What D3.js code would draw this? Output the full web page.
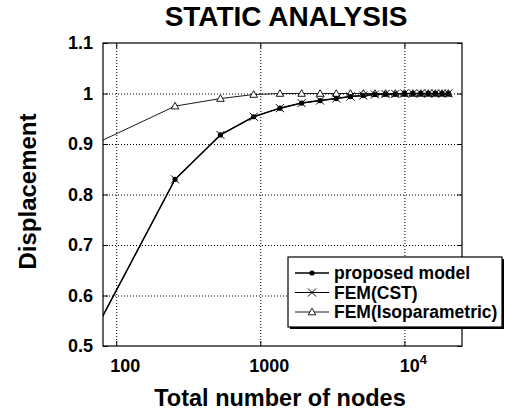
<!DOCTYPE html>
<html>
<head>
<meta charset="utf-8">
<script src="https://cdn.jsdelivr.net/npm/d3@7"></script>
<style>
body { margin: 0; background: #fff; }
text { font-family: Arial, "Liberation Sans", sans-serif; font-weight: bold; fill: #000; }
</style>
</head>
<body>
<div id="containerX"></div>
<script>
//data (first point sits just left of the axis, clipped)
var nodes = [64, 256, 529, 900, 1369, 1936, 2601, 3364, 4225, 5184, 6241, 7396, 8649, 10000, 11449, 12996, 14641, 16384, 18225, 20164];
var proposed = [0.505, 0.83, 0.918, 0.954, 0.971, 0.981, 0.986, 0.990, 0.994, 0.996, 0.998, 0.999, 0.999, 1.0, 1.0, 1.0, 1.0, 1.0, 1.0, 1.0];
var cst = [0.505, 0.83, 0.918, 0.954, 0.971, 0.981, 0.986, 0.990, 0.994, 0.996, 0.998, 0.999, 0.999, 1.0, 1.0, 1.0, 1.0, 1.0, 1.0, 1.0];
var iso = [0.894, 0.975, 0.990, 0.998, 1.0, 1.0, 1.0, 1.0, 1.0, 1.0, 1.0, 1.0, 1.0, 1.0, 1.0, 1.0, 1.0, 1.0, 1.0, 1.0];
var yTicks = [0.5, 0.6, 0.7, 0.8, 0.9, 1, 1.1];
var xTicks = [100, 1000, 10000];
var legendNames = ["proposed model", "FEM(CST)", "FEM(Isoparametric)"];

var W = 506, H = 412;
var pL = 103, pR = 462, pT = 43, pB = 346;

var svg = d3.select("#containerX").append("svg")
    .attr("width", W)
    .attr("height", H);

var x = d3.scaleLog().domain([81, 25100]).range([pL, pR]);
var y = d3.scaleLinear().domain([0.5, 1.1]).range([pB, pT]);

svg.append("clipPath").attr("id", "plotclip")
  .append("rect")
    .attr("x", pL).attr("y", pT)
    .attr("width", pR - pL).attr("height", pB - pT);

//grid
svg.append("g")
    .attr("transform", "translate(0," + pB + ")")
    .call(d3.axisBottom(x).tickValues(xTicks).tickSize(-(pB - pT)).tickFormat(""))
    .call(function(g) { g.select(".domain").remove(); })
    .selectAll("line")
    .attr("stroke", "#000")
    .attr("stroke-dasharray", "1,2");

svg.append("g")
    .attr("transform", "translate(" + pL + ",0)")
    .call(d3.axisLeft(y).tickValues(yTicks.slice(1, -1)).tickSize(-(pR - pL)).tickFormat(""))
    .call(function(g) { g.select(".domain").remove(); })
    .selectAll("line")
    .attr("stroke", "#000")
    .attr("stroke-dasharray", "1,2");

//box + inward ticks
svg.append("rect")
    .attr("x", pL).attr("y", pT)
    .attr("width", pR - pL).attr("height", pB - pT)
    .attr("fill", "none").attr("stroke", "#000").attr("stroke-width", 1.2);

svg.append("g").attr("transform", "translate(0," + pT + ")")
    .call(d3.axisBottom(x).tickValues(xTicks).tickSize(5).tickFormat(""))
    .call(function(g) { g.select(".domain").remove(); });
svg.append("g").attr("transform", "translate(0," + pB + ")")
    .call(d3.axisTop(x).tickValues(xTicks).tickSize(5).tickFormat(""))
    .call(function(g) { g.select(".domain").remove(); });
svg.append("g").attr("transform", "translate(" + pR + ",0)")
    .call(d3.axisLeft(y).tickValues(yTicks).tickSize(5).tickFormat(""))
    .call(function(g) { g.select(".domain").remove(); });
svg.append("g").attr("transform", "translate(" + pL + ",0)")
    .call(d3.axisRight(y).tickValues(yTicks).tickSize(5).tickFormat(""))
    .call(function(g) { g.select(".domain").remove(); });

//tick labels
svg.selectAll(".ylab").data(yTicks).enter().append("text")
    .attr("x", pL - 10)
    .attr("y", function(d) { return y(d); })
    .attr("dy", "0.36em")
    .attr("text-anchor", "end")
    .style("font-size", "18px")
    .text(function(d) { return d3.format("")(d); });

var xl = svg.selectAll(".xlab").data(xTicks).enter().append("text")
    .attr("x", function(d) { return x(d) + 9; })
    .attr("y", 372)
    .attr("text-anchor", "middle")
    .style("font-size", "18px");
xl.each(function(d) {
    var t = d3.select(this);
    if (d == 10000) {
        t.text("10");
        t.append("tspan").attr("dy", "-8").style("font-size", "13px").text("4");
    } else {
        t.text(d);
    }
});

//titles
svg.append("text")
    .attr("x", 286).attr("y", 26)
    .attr("text-anchor", "middle")
    .style("font-size", "28px")
    .text("STATIC ANALYSIS");

svg.append("text")
    .attr("x", 280).attr("y", 406)
    .attr("text-anchor", "middle")
    .style("font-size", "23.5px")
    .text("Total number of nodes");

svg.append("text")
    .attr("transform", "translate(36," + ((pT + pB) / 2 - 3) + ") rotate(-90)")
    .attr("text-anchor", "middle")
    .style("font-size", "24px")
    .text("Displacement");

//lines
var line = d3.line()
    .x(function(d) { return x(d[0]); })
    .y(function(d) { return y(d[1]); });

function pts(vals) { return nodes.map(function(n, i) { return [n, vals[i]]; }); }

var plot = svg.append("g").attr("clip-path", "url(#plotclip)");

plot.append("path").attr("d", line(pts(iso)))
    .attr("fill", "none").attr("stroke", "#000").attr("stroke-width", 0.9);
plot.append("path").attr("d", line(pts(cst)))
    .attr("fill", "none").attr("stroke", "#000").attr("stroke-width", 1);
plot.append("path").attr("d", line(pts(proposed)))
    .attr("fill", "none").attr("stroke", "#000").attr("stroke-width", 1.5);

//markers
function tri(g, cx, cy) {
    g.append("path")
        .attr("d", "M" + cx + "," + (cy - 3.8) + "L" + (cx + 3.8) + "," + (cy + 2.8) + "L" + (cx - 3.8) + "," + (cy + 2.8) + "Z")
        .attr("fill", "#fff").attr("stroke", "#000").attr("stroke-width", 0.9);
}
function cross(g, cx, cy) {
    g.append("path")
        .attr("d", "M" + (cx - 4) + "," + (cy - 4) + "L" + (cx + 4) + "," + (cy + 4) + "M" + (cx - 4) + "," + (cy + 4) + "L" + (cx + 4) + "," + (cy - 4))
        .attr("stroke", "#000").attr("stroke-width", 1);
}
function dot(g, cx, cy) {
    g.append("circle").attr("cx", cx).attr("cy", cy).attr("r", 2.6).attr("fill", "#000");
}

var mk = plot.append("g");
pts(iso).forEach(function(p) { tri(mk, x(p[0]), y(p[1])); });
pts(cst).forEach(function(p) { cross(mk, x(p[0]), y(p[1])); });
pts(proposed).forEach(function(p) { dot(mk, x(p[0]), y(p[1])); });

//legend
var lg = svg.append("g");
lg.append("rect").attr("x", 290).attr("y", 259).attr("width", 214).attr("height", 70).attr("fill", "#000");
lg.append("rect").attr("x", 288).attr("y", 257).attr("width", 214).attr("height", 70)
    .attr("fill", "#fff").attr("stroke", "#000").attr("stroke-width", 1.2);

var drawers = [dot, cross, tri];
var widths = [1.5, 1, 0.9];
legendNames.forEach(function(name, i) {
    var ly = 273 + i * 19.5;
    lg.append("line").attr("x1", 295).attr("x2", 329).attr("y1", ly).attr("y2", ly)
        .attr("stroke", "#000").attr("stroke-width", widths[i]);
    drawers[i](lg, 312, ly);
    lg.append("text").attr("x", 334).attr("y", ly).attr("dy", "0.36em")
        .style("font-size", "17.5px")
        .text(name);
});
</script>
</body>
</html>
